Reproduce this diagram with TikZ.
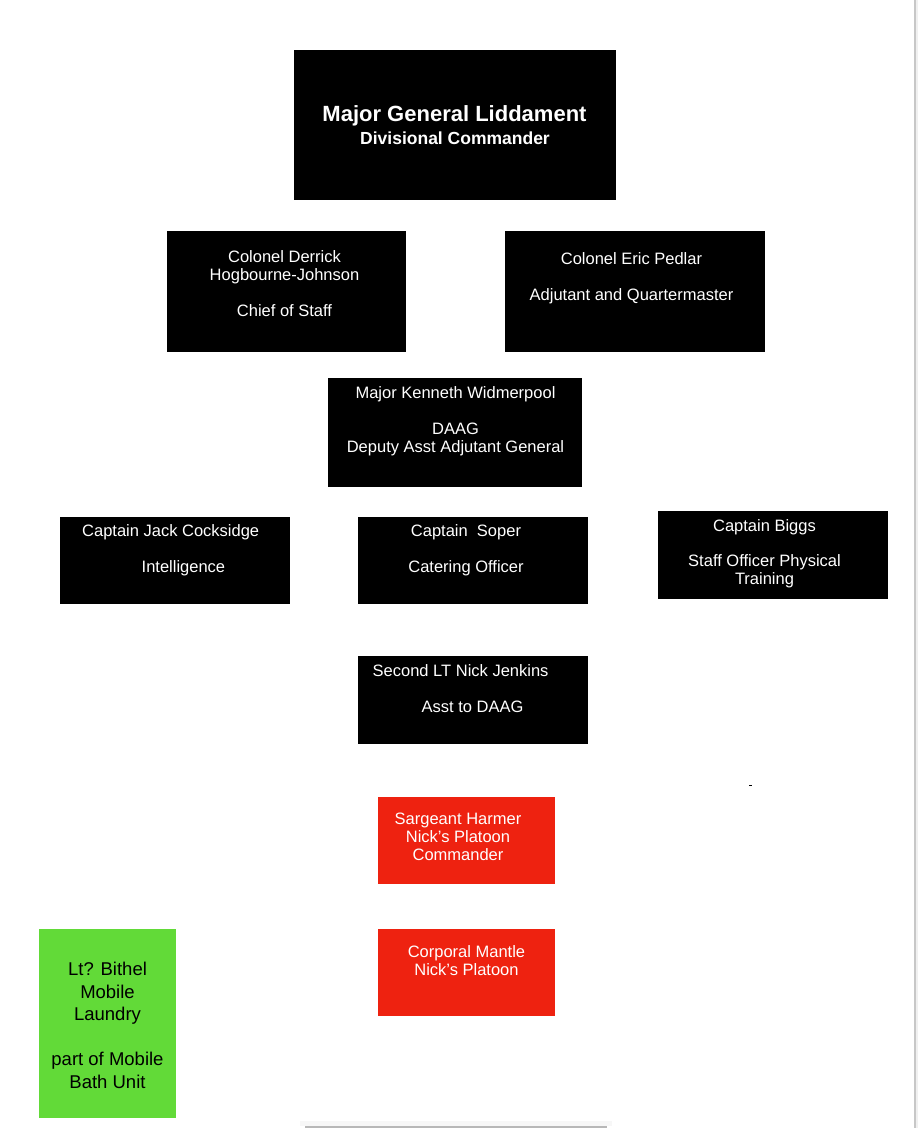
\documentclass[tikz,border=0pt]{standalone}
\usepackage{fontspec}
\setmainfont{Liberation Sans}
\definecolor{boxred}{RGB}{238,34,16}
\definecolor{boxgreen}{RGB}{98,218,56}
\tikzset{
  box/.style={anchor=north west, inner sep=0pt, outer sep=0pt, draw=none},
  blackbox/.style={box, fill=black},
  redbox/.style={box, fill=boxred},
  greenbox/.style={box, fill=boxgreen},
  wtext/.style={anchor=north, inner sep=0pt, align=center, text=white, font=\fontsize{16.5}{18}\selectfont},
  wtextl/.style={anchor=north west, inner sep=0pt, align=left, text=white, font=\fontsize{16.5}{18}\selectfont},
  gtext/.style={anchor=north, inner sep=0pt, align=center, text=black, font=\fontsize{18.5}{22.5}\selectfont},
}
\begin{document}
\begin{tikzpicture}[x=1pt,y=-1pt]
\useasboundingbox (0,0) rectangle (918,1128);
\fill[white] (0,0) rectangle (918,1128);
% page edge artifacts
\fill[black!22] (913.5,0) rectangle (915.5,1128);
\fill[black!6] (915.5,0) rectangle (918,1128);
\fill[black!3] (300,1121) rectangle (612,1126);
\fill[black!28] (305,1126) rectangle (607,1128);
\draw[line width=1pt] (749,785.5) -- (752,785.5);

% boxes
\node[blackbox, minimum width=322, minimum height=150] (mg) at (294,50) {};
\node[blackbox, minimum width=239, minimum height=121] (dhj) at (167,231) {};
\node[blackbox, minimum width=260, minimum height=121] (ep) at (505,231) {};
\node[blackbox, minimum width=254, minimum height=109] (kw) at (328,378) {};
\node[blackbox, minimum width=230, minimum height=87] (jc) at (60,517) {};
\node[blackbox, minimum width=230, minimum height=87] (so) at (358,517) {};
\node[blackbox, minimum width=230, minimum height=88] (bi) at (658,511) {};
\node[blackbox, minimum width=230, minimum height=88] (nj) at (358,656) {};
\node[redbox, minimum width=177, minimum height=87] (sh) at (378,797) {};
\node[redbox, minimum width=177, minimum height=87] (cm) at (378,929) {};
\node[greenbox, minimum width=137, minimum height=189] (lb) at (39,929) {};

% texts
\node[anchor=north, inner sep=0pt, text=white, font=\bfseries\fontsize{22}{24}\selectfont] (mgt1) at (454.5,105) {Major General Liddament};
\node[anchor=north, inner sep=0pt, text=white, font=\bfseries\fontsize{17.5}{20}\selectfont] (mgt2) at (455,131.5) {Divisional Commander};

\node[wtext] (dhjt) at (284.5,250) {Colonel Derrick\\Hogbourne-Johnson\\[18pt]Chief of Staff};
\node[wtext] (ept) at (631.5,252) {Colonel Eric Pedlar\\[18pt]Adjutant and Quartermaster};
\node[wtext] (kwt) at (455.5,386) {Major Kenneth Widmerpool\\[18pt]DAAG\\Deputy Asst Adjutant General};
\node[wtextl] (jct1) at (82,524) {Captain Jack Cocksidge};
\node[wtextl] (jct2) at (141.5,560.5) {Intelligence};
\node[wtext] (sot) at (466,524) {Captain\ \ Soper\\[18pt]Catering Officer};
\node[wtext] (bit) at (764.5,519) {Captain Biggs\\[17pt]Staff Officer Physical\\Training};
\node[wtextl] (njt1) at (372.5,664) {Second LT Nick Jenkins};
\node[wtextl] (njt2) at (421.5,700.5) {Asst to DAAG};
\node[wtext] (sht) at (458,813) {Sargeant Harmer\\Nick’s Platoon\\Commander};
\node[wtext] (cmt) at (466.5,945.5) {Corporal Mantle\\Nick’s Platoon};
\node[gtext] (lbt) at (107.5,962) {Lt? Bithel\\Mobile\\Laundry\\[22.5pt]part of Mobile\\Bath Unit};
\end{tikzpicture}
\end{document}
